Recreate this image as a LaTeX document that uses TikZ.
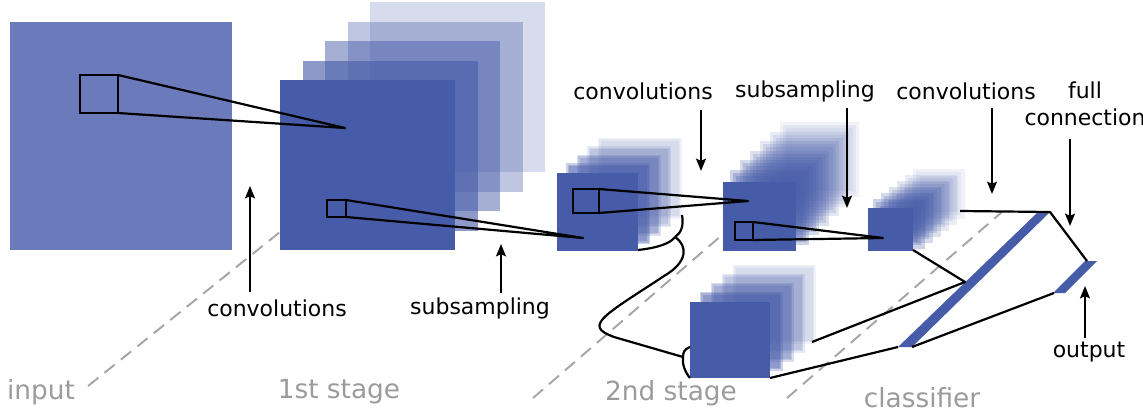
\documentclass[tikz,border=0pt]{standalone}
\usepackage{fontspec}
\setmainfont{DejaVu Sans}
\usetikzlibrary{arrows.meta}
\definecolor{fmblue}{RGB}{71,92,168}
\definecolor{inblue}{RGB}{106,122,186}
\definecolor{stagegray}{RGB}{155,155,155}
\tikzset{
  kernel/.style={draw=black,line width=1.25pt},
  wire/.style={line width=1.25pt,line join=round},
  lbl/.style={font=\fontsize{12.5}{15.5}\selectfont,inner sep=0pt,align=center},
  stagelbl/.style={font=\fontsize{15}{18}\selectfont,text=stagegray,inner sep=0pt},
  sep/.style={draw=stagegray!90,line width=1.1pt,dash pattern=on 7.5pt off 4.5pt},
  pointer/.style={-{Stealth[length=7pt,width=5.6pt,inset=1.2pt]},line width=1.25pt},
}
% stack of feature maps: x, y, w, h, layers, dx, dy, blur
\newcommand{\fmstack}[8]{%
  \foreach \k in {#5,...,1}{
    \pgfmathsetmacro{\op}{0.62-0.4*(\k-1)/(#5-1)}
    \pgfmathsetmacro{\pc}{1-pow(1-\op,1/3)}
    \foreach \b in {-#8,0,#8}
      \fill[fmblue,fill opacity=\pc]
        ({#1+\k*#6-\b},{#2+\k*#7-\b}) rectangle ++({#3+2*\b},{#4+2*\b});
  }
  \fill[fmblue] (#1,#2) rectangle ++(#3,#4);
}

\begin{document}
\begin{tikzpicture}[x=0.02cm,y=-0.02cm]
  \useasboundingbox (0,0) rectangle (1143,419);

  % stage separators
  \coordinate (sa1) at (88,386);   \coordinate (sa2) at (280,232);
  \coordinate (sb1) at (533,398);  \coordinate (sb2) at (722,235);
  \coordinate (sc1) at (787,398);  \coordinate (sc2) at (1002,212);
  \draw[sep] (sa1) -- (sa2);
  \draw[sep] (sb1) -- (sb2);
  \draw[sep] (sc1) -- (sc2);

  % input
  \fill[inblue] (10,22) rectangle (232,250);
  % feature maps
  \fmstack{280}{80}{175}{170}{4}{22.5}{-19.5}{0}
  \fmstack{557}{173}{81}{78}{4}{10.5}{-8.5}{1.5}
  \fmstack{723}{182}{73}{69}{6}{10}{-9.5}{3}
  \fmstack{868}{208}{45}{43}{6}{8}{-6}{3.5}
  \fmstack{690}{302}{80}{76}{4}{11}{-9}{1.5}

  % classifier bars
  \fill[fmblue] (898,347) -- (912,347) -- (1050,212) -- (1038,212) -- cycle;
  \fill[fmblue] (1053,293) -- (1065,293) -- (1097,261) -- (1085,261) -- cycle;

  % receptive fields
  \draw[kernel] (80,75) rectangle (118,113);
  \coordinate (ka1) at (118,75); \coordinate (ka2) at (118,113); \coordinate (kapex) at (345,128);
  \draw[wire] (ka1) -- (kapex) -- (ka2);
  \draw[kernel] (327,200) rectangle (346,217);
  \coordinate (kb1) at (346,200); \coordinate (kb2) at (346,217); \coordinate (kbpex) at (583,238);
  \draw[wire] (kb1) -- (kbpex) -- (kb2);
  \draw[kernel] (573,189) rectangle (599,213);
  \coordinate (kc1) at (599,189); \coordinate (kc2) at (599,213); \coordinate (kcpex) at (748,201);
  \draw[wire] (kc1) -- (kcpex) -- (kc2);
  \draw[kernel] (735,222) rectangle (753,240);
  \coordinate (kd1) at (753,222); \coordinate (kd2) at (753,240); \coordinate (kdpex) at (883,238);
  \draw[wire] (kd1) -- (kdpex) -- (kd2);

  % connection down to the second copy
  \coordinate (c2br) at (638,250);
  \coordinate (c2up) at (682,215);
  \coordinate (j1) at (675,237);
  \coordinate (j2) at (683,357);
  \coordinate (lo1) at (690,347);
  \coordinate (lo2) at (690,378);
  \draw[wire] (c2br) .. controls (656,248) and (670,244) .. (j1);
  \draw[wire] (c2up) .. controls (684,226) and (681,233) .. (j1);
  \draw[wire] (j1) .. controls (688,246) and (688,262) .. (664,276)
    .. controls (640,292) and (620,304) .. (608,314)
    .. controls (594,326) and (598,331) .. (614,337) -- (j2);
  \draw[wire] (lo1) .. controls (684,349) and (683,353) .. (j2);
  \draw[wire] (j2) .. controls (682,364) and (685,372) .. (lo2);

  % classifier wiring
  \coordinate (c3br) at (913,250);
  \coordinate (f1) at (965,282);
  \coordinate (lor) at (812,342);
  \coordinate (lobr) at (770,378);
  \coordinate (c3top) at (960,211);
  \coordinate (bartop) at (1050,212);
  \coordinate (barbot) at (898,347);
  \coordinate (barbot2) at (912,347);
  \coordinate (outtop) at (1087,261);
  \coordinate (outbot) at (1054,293);
  \draw[wire] (c3br) -- (f1) -- (lor);
  \draw[wire] (c3top) -- (bartop) -- (outtop);
  \draw[wire] (lobr) -- (barbot);
  \draw[wire] (barbot2) -- (outbot);

  % labels and pointers
  \node[lbl] (conva) at (277,308) {convolutions};
  \node[lbl] (suba) at (480,308) {subsampling};
  \node[lbl] (convb) at (643,91) {convolutions};
  \node[lbl] (subb) at (805,91) {subsampling};
  \node[lbl] (convc) at (966,91) {convolutions};
  \node[lbl] (full) at (1085,104) {full\\connection};
  \node[lbl] (outl) at (1089,352) {output};
  \coordinate (pa) at (250,186);
  \coordinate (pb) at (501,244);
  \coordinate (pc) at (701,171);
  \coordinate (pd) at (847,208);
  \coordinate (pe) at (992,194);
  \coordinate (pf) at (1070,226);
  \coordinate (pg) at (1085,286);
  \draw[pointer] (250,292) -- (pa);
  \draw[pointer] (501,293) -- (pb);
  \draw[pointer] (701,110) -- (pc);
  \draw[pointer] (847,108) -- (pd);
  \draw[pointer] (992,108) -- (pe);
  \draw[pointer] (1070,139) -- (pf);
  \draw[pointer] (1085,338) -- (pg);

  % stage names
  \node[stagelbl] (sin) at (41,392) {input};
  \node[stagelbl] (sfirst) at (339,392) {1st stage};
  \node[stagelbl] (ssecond) at (671,393) {2nd stage};
  \node[stagelbl] (sclass) at (922,398) {classifier};
\end{tikzpicture}
\end{document}
